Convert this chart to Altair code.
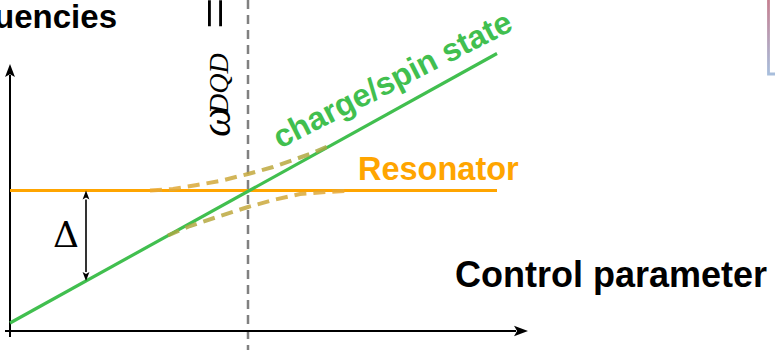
import altair as alt
import pandas as pd

# --- level diagram values (control parameter vs. frequency, arbitrary units) ---
control_span = [0.0, 48.7]          # extent of the two bare levels
resonator_freq = [14.05, 14.05]     # resonator level (flat)
state_freq = [0.8, 27.75]           # charge/spin level at both ends
crossing_control = 23.8             # where the two levels meet

# hybridised branches near the crossing
upper_control = [14.0, 16.3, 18.7, 21.0, 23.8, 26.3, 28.3, 30.0, 32.0]
upper_freq = [14.05, 14.2, 14.6, 15.0, 15.7, 16.4, 17.1, 17.7, 18.55]
lower_control = [15.8, 18.0, 20.7, 23.8, 26.3, 29.0, 31.7, 33.5]
lower_freq = [9.55, 10.5, 11.4, 12.4, 13.1, 13.7, 13.9, 14.0]

# detuning marker
delta_control = 7.6
delta_span = [14.05, 5.0]

# axis arrows
x_axis_span = [-0.5, 51.8]
y_axis_span = [-0.6, 26.7]

GREEN = "#41bf4f"
ORANGE = "#ffa500"
FONT = "Liberation Sans"

xs = alt.Scale(domain=[-1.0, 76.5], nice=False, zero=False)
ys = alt.Scale(domain=[-1.9, 33.1], nice=False, zero=False)


def X(field):
    return alt.X(field, type="quantitative", scale=xs, axis=None)


def Y(field):
    return alt.Y(field, type="quantitative", scale=ys, axis=None)


def XD(v):
    return alt.XDatum(v, type="quantitative", scale=xs, axis=None)


def YD(v):
    return alt.YDatum(v, type="quantitative", scale=ys, axis=None)


levels = pd.DataFrame({
    "c": control_span * 2,
    "f": resonator_freq + state_freq,
    "level": ["Resonator"] * 2 + ["state"] * 2,
})
upper = pd.DataFrame({"c": upper_control, "f": upper_freq})
lower = pd.DataFrame({"c": lower_control, "f": lower_freq})

ARROW_UP = "M0,0L-0.38,1L0,0.78L0.38,1Z"
ARROW_DOWN = "M0,0L-0.38,-1L0,-0.78L0.38,-1Z"
ARROW_RIGHT = "M0,0L-1,-0.38L-0.78,0L-1,0.38Z"

# crossing marker
crossing = alt.Chart().mark_rule(
    color="#808080", strokeWidth=2.5, strokeDash=[9, 6]
).encode(x=XD(crossing_control))

# axes
x_axis_df = pd.DataFrame({"c": [x_axis_span[0]], "c2": [x_axis_span[1] - 1.2], "f": [0.0]})
y_axis_df = pd.DataFrame({"c": [0.0], "f": [y_axis_span[0]], "f2": [y_axis_span[1] - 1.1]})
x_axis = alt.Chart(x_axis_df).mark_rule(color="black", strokeWidth=2).encode(
    x=X("c"), x2="c2", y=Y("f"))
y_axis = alt.Chart(y_axis_df).mark_rule(color="black", strokeWidth=2).encode(
    x=X("c"), y=Y("f"), y2="f2")
x_head = alt.Chart().mark_point(
    shape=ARROW_RIGHT, size=784, filled=True, color="black", opacity=1, strokeWidth=0
).encode(x=XD(x_axis_span[1]), y=YD(0.0))
y_head = alt.Chart().mark_point(
    shape=ARROW_UP, size=676, filled=True, color="black", opacity=1, strokeWidth=0
).encode(x=XD(0.0), y=YD(y_axis_span[1]))

# bare levels
level_lines = alt.Chart(levels).mark_line(strokeWidth=3.2).encode(
    x=X("c"), y=Y("f"), detail="level:N",
    color=alt.Color("level:N", scale=alt.Scale(domain=["Resonator", "state"],
                                               range=[ORANGE, GREEN]), legend=None),
)

# hybridised branches
upper_line = alt.Chart(upper).mark_line(
    strokeWidth=4, strokeDash=[12, 7], opacity=0.85,
    stroke=alt.Gradient(gradient="linear", x1=0, x2=1, y1=0, y2=0, stops=[
        alt.GradientStop(color="#eaa935", offset=0),
        alt.GradientStop(color="#a6a843", offset=1)]),
).encode(x=X("c"), y=Y("f"))
lower_line = alt.Chart(lower).mark_line(
    strokeWidth=4, strokeDash=[12, 7], opacity=0.85,
    stroke=alt.Gradient(gradient="linear", x1=0, x2=1, y1=0, y2=0, stops=[
        alt.GradientStop(color="#a6a843", offset=0),
        alt.GradientStop(color="#eaa935", offset=1)]),
).encode(x=X("c"), y=Y("f"))

# detuning double arrow
delta_df = pd.DataFrame({"c": [delta_control], "f": [delta_span[0] - 0.9], "f2": [delta_span[1] + 0.9]})
delta_rule = alt.Chart(delta_df).mark_rule(color="black", strokeWidth=1.6).encode(
    x=X("c"), y=Y("f"), y2="f2")
delta_top = alt.Chart().mark_point(
    shape=ARROW_UP, size=324, filled=True, color="black", opacity=1, strokeWidth=0
).encode(x=XD(delta_control), y=YD(delta_span[0]))
delta_bot = alt.Chart().mark_point(
    shape=ARROW_DOWN, size=324, filled=True, color="black", opacity=1, strokeWidth=0
).encode(x=XD(delta_control), y=YD(delta_span[1]))


def label(text, cx, fy, **kw):
    base = dict(align="left", baseline="alphabetic")
    base.update(kw)
    return alt.Chart().mark_text(text=text, **base).encode(x=XD(cx), y=YD(fy))


texts = [
    label("Frequencies", 10.7, 30.3, align="right", font=FONT, fontSize=33,
          fontWeight="bold", color="black"),
    label("Control parameter", 44.5, 4.4, font=FONT, fontSize=36,
          fontWeight="bold", color="black"),
    label("Resonator", 34.8, 15.1, font=FONT, fontSize=32.5,
          fontWeight="bold", color=ORANGE),
    label("charge/spin state", 27.0, 18.2, font=FONT, fontSize=32,
          fontWeight="bold", color=GREEN, angle=333),
    label("Δ", 5.6, 8.4, align="center", font="DejaVu Serif", fontSize=36,
          color="black"),
    label("ω", 22.0, 19.4, font="Liberation Serif", fontSize=42,
          fontStyle="italic", color="black", angle=270),
    label("DQD", 21.75, 21.7, font="Liberation Serif", fontSize=28,
          fontStyle="italic", color="black", angle=270),
    label("=", 22.4, 30.2, font="Liberation Serif", fontSize=56,
          color="black", angle=270),
]

# corner of a neighbouring panel
panel = alt.Chart().mark_rect(
    fill="white", strokeWidth=2.8,
    stroke=alt.Gradient(gradient="linear", x1=0, x2=0, y1=0, y2=1, stops=[
        alt.GradientStop(color="#c87c8c", offset=0),
        alt.GradientStop(color="#a8bedc", offset=1)]),
).encode(x=XD(75.85), x2=alt.X2Datum(80.0), y=YD(25.7), y2=alt.Y2Datum(33.5))

chart = alt.layer(
    crossing, x_axis, y_axis, x_head, y_head, level_lines,
    upper_line, lower_line, delta_rule, delta_top, delta_bot, panel, *texts
).properties(
    width=775, height=350, padding=0,
    autosize=alt.AutoSizeParams(type="none"),
).configure_view(stroke=None)

chart.save("out.html", embed_options={"renderer": "svg", "actions": False})
